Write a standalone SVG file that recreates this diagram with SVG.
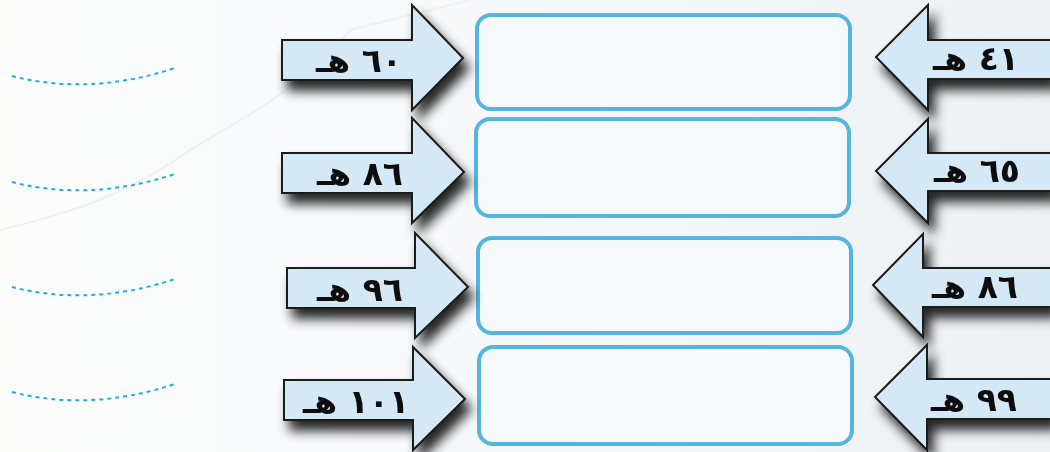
<svg xmlns="http://www.w3.org/2000/svg" width="1050" height="452" viewBox="0 0 1050 452">
  <defs>
    <filter id="shadow" x="-20%" y="-30%" width="150%" height="180%">
      <feGaussianBlur in="SourceAlpha" stdDeviation="6"/>
      <feOffset dx="6" dy="10" result="b"/>
      <feComponentTransfer><feFuncA type="linear" slope="0.85"/></feComponentTransfer>
      <feMerge><feMergeNode/><feMergeNode in="SourceGraphic"/></feMerge>
    </filter>
    <linearGradient id="bg" x1="0" y1="0" x2="1" y2="0">
      <stop offset="0" stop-color="#fcfdfb"/>
      <stop offset="0.3" stop-color="#f8fafb"/>
      <stop offset="0.6" stop-color="#f4f7fa"/>
      <stop offset="1" stop-color="#eef1f3"/>
    </linearGradient>
  </defs>
  <style>
    .arrow { fill: #d4e8f5; stroke: #1a1a1a; stroke-width: 2; stroke-linejoin: miter; }
    .lbl { font-family: "DejaVu Sans", "Noto Sans", sans-serif; font-size: 33px; font-weight: bold; fill: #111; }
    .box { fill: #f7fafd; stroke: #55b5df; stroke-width: 4; }
    .dash { fill: none; stroke: #1cb0df; stroke-width: 2; stroke-dasharray: 4 4; }
  </style>
  <rect x="0" y="0" width="1050" height="452" fill="url(#bg)"/>
  <path d="M0,230 C60,215 120,200 190,150 C240,120 300,90 350,30 L470,0" fill="none" stroke="#eff1f0" stroke-width="2"/>

  <g id="answer-lines">
    <path class="dash" d="M12,76 Q90,96 175,68"/>
    <path class="dash" d="M12,182 Q90,202 175,174"/>
    <path class="dash" d="M12,287 Q90,307 175,279"/>
    <path class="dash" d="M12,392 Q90,412 175,384"/>
  </g>

  <g id="connectors"></g>

  <g id="box-1"><rect class="box" x="477" y="15" width="373" height="94" rx="14"/></g>
  <g id="box-2"><rect class="box" x="476" y="119" width="373" height="97" rx="14"/></g>
  <g id="box-3"><rect class="box" x="478" y="238" width="373" height="95" rx="14"/></g>
  <g id="box-4"><rect class="box" x="479" y="347" width="373" height="97" rx="14"/></g>

  <g id="left-arrow-1" filter="url(#shadow)">
    <polygon class="arrow" points="282,40 412,40 412,5 463,58 412,110 412,80 282,80"/>
    <text class="lbl" x="359" y="72" text-anchor="middle" direction="rtl">٦٠ هـ</text>
  </g>
  <g id="left-arrow-2" filter="url(#shadow)">
    <polygon class="arrow" points="282,153 412,153 412,118 464,172 412,223 412,193 282,193"/>
    <text class="lbl" x="360" y="185" text-anchor="middle" direction="rtl">٨٦ هـ</text>
  </g>
  <g id="left-arrow-3" filter="url(#shadow)">
    <polygon class="arrow" points="287,268 415,268 415,233 468,287 415,338 415,308 287,308"/>
    <text class="lbl" x="360" y="301" text-anchor="middle" direction="rtl">٩٦ هـ</text>
  </g>
  <g id="left-arrow-4" filter="url(#shadow)">
    <polygon class="arrow" points="284,380 413,380 413,347 465,399 413,450 413,420 284,420"/>
    <text class="lbl" x="356" y="413" text-anchor="middle" direction="rtl">١٠١ هـ</text>
  </g>

  <g id="right-arrow-1" filter="url(#shadow)">
    <polygon class="arrow" points="1052,40 928,40 928,5 876,57 928,110 928,79 1052,79"/>
    <text class="lbl" x="976" y="70" text-anchor="middle" direction="rtl">٤١ هـ</text>
  </g>
  <g id="right-arrow-2" filter="url(#shadow)">
    <polygon class="arrow" points="1052,153 928,153 928,119 876,171 928,223 928,191 1052,191"/>
    <text class="lbl" x="977" y="182" text-anchor="middle" direction="rtl">٦٥ هـ</text>
  </g>
  <g id="right-arrow-3" filter="url(#shadow)">
    <polygon class="arrow" points="1052,268 923,268 923,234 873,285 923,337 923,307 1052,307"/>
    <text class="lbl" x="975" y="298" text-anchor="middle" direction="rtl">٨٦ هـ</text>
  </g>
  <g id="right-arrow-4" filter="url(#shadow)">
    <polygon class="arrow" points="1052,379 927,379 927,345 875,397 927,450 927,419 1052,419"/>
    <text class="lbl" x="974" y="411" text-anchor="middle" direction="rtl">٩٩ هـ</text>
  </g>
</svg>
